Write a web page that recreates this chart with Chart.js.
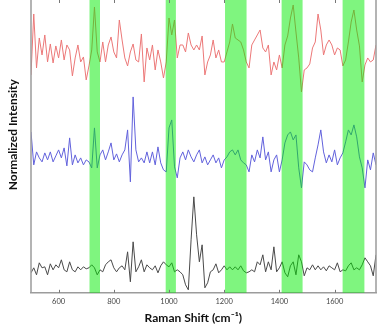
<!DOCTYPE html>
<html>
<head>
<meta charset="utf-8">
<script src="https://cdn.jsdelivr.net/npm/chart.js@4"></script>
<style>
  html, body { margin: 0; padding: 0; background: #fff; overflow: hidden; }
  canvas { display: block; }
</style>
</head>
<body>
<canvas id="ramanChart" width="386" height="327"></canvas>
<script>
// Raman shift grid (cm-1)
const shifts = [
  500, 510, 520, 530, 540, 550, 560, 570, 580, 590,
  600, 610, 620, 630, 640, 650, 660, 670, 680, 690,
  700, 710, 720, 730, 740, 750, 760, 770, 780, 790,
  800, 810, 820, 830, 840, 850, 860, 870, 880, 890,
  900, 910, 920, 930, 940, 950, 960, 970, 980, 990,
  1000, 1010, 1020, 1030, 1040, 1050, 1060, 1070, 1080, 1090,
  1100, 1110, 1120, 1130, 1140, 1150, 1160, 1170, 1180, 1190,
  1200, 1210, 1220, 1230, 1240, 1250, 1260, 1270, 1280, 1290,
  1300, 1310, 1320, 1330, 1340, 1350, 1360, 1370, 1380, 1390,
  1400, 1410, 1420, 1430, 1440, 1450, 1460, 1470, 1480, 1490,
  1500, 1510, 1520, 1530, 1540, 1550, 1560, 1570, 1580, 1590,
  1600, 1610, 1620, 1630, 1640, 1650, 1660, 1670, 1680, 1690,
  1700, 1710, 1720, 1730, 1740, 1750
];

// spectra, relative to their own baseline (a.u.)
const redSpectrum = [
  -2.0, 4.1, -1.3, 1.7, 0, 2.0, -0.7, 1.1, -0.8, 0.9,
  -0.3, 1.5, -0.5, 1.0, 0.5, -2.1, -0.3, 1.0, -0.7, -0.2,
  -2.5, -1.1, 0.5, 4.8, 0.3, -0.7, 1.3, -0.7, 1.0, 1.8,
  0.3, -0.3, 3.5, 1.5, -0.3, -1.1, 0.3, 1.1, -0.5, -0.7,
  2.1, -2.7, 0.7, -0.5, 1.0, -1.5, 0.5, -0.7, -2.3, -0.7,
  3.7, 2.0, 3.5, -0.3, 1.0, 1.0, 0.3, 2.2, 1.0, 0.5,
  1.0, 0.5, 1.9, -2.0, -0.7, 0, 1.5, -0.3, 0.5, -0.7,
  -0.7, 0.3, 1.3, 3.1, 1.7, 1.5, 1.3, 0.5, -0.7, -1.3,
  1.0, 1.5, 2.0, 2.5, 0.7, 0.3, 1.0, -2.0, -0.7, -1.5,
  0, -1.3, 1.0, 1.9, 3.7, 5.0, 2.3, -0.3, -3.7, -1.5,
  -1.3, -0.9, 0.7, 1.3, 4.1, 2.5, 0, 1.0, 1.5, 1.0,
  0, 0.7, 0.5, -1.1, -0.5, 1.3, 3.3, 4.5, 2.5, 0.9,
  -2.7, -1.0, -0.3, -0.7, -0.5, 1.0
];
const blueSpectrum = [
  2.6, -0.7, 0.6, 0, -0.4, 0.5, -0.2, 0.6, -0.4, 0.2,
  0.8, 0, 1.0, -0.8, 2.0, -0.7, 0.3, -0.5, 0, -0.7,
  -0.2, -0.4, -1.0, 3.0, -1.0, 0.3, 0.8, -0.2, 0.6, 1.5,
  -0.2, 0.4, -0.4, 0.3, 0.8, 2.8, -2.4, 6.1, 0.8, -0.4,
  0, -0.5, 0.6, -0.5, 0.6, -0.7, 1.1, -0.5, -1.2, -1.4,
  3.0, 3.8, -0.9, -2.0, 0, 0.6, -0.2, 0.8, 0.1, -0.4,
  0.3, 0.8, -0.5, 0.1, -0.7, -0.2, 0.3, -0.5, 0, -1.0,
  -0.2, 0.1, 0.6, 0.8, 0.3, 0.8, -0.2, -0.5, -0.7, -1.4,
  0.3, -0.4, 0.8, 0, 2.1, -0.2, 0.6, -1.4, -0.2, 0.3,
  -1.4, -0.2, 1.5, 2.3, 2.6, 1.8, 2.3, -1.0, -3.0, -0.4,
  -0.7, -1.2, -1.4, 0, 1.3, 2.8, 0.6, -0.5, 0.3, -0.4,
  0.8, -0.7, 0, 0.5, 1.6, 2.8, 2.3, 3.3, 2.1, 0.1,
  -1.0, -3.0, -0.2, -1.2, 0.5, -0.7
];
const blackSpectrum = [
  -0.5, 0, -0.7, 0.5, 0, 0.1, -0.7, 0.4, -0.2, 0.3,
  0, 0.8, -0.2, -0.4, 0.6, -0.2, -0.4, 0.1, -0.2, 0.1,
  -0.1, 0, 0.3, 0, -0.7, -0.2, -0.4, 0.3, 0.6, 0.8,
  0, -0.4, 0, 0.2, -0.2, 1.6, -1.4, 2.6, -0.4, 0.1,
  0.8, -0.4, 0.3, 0, -0.2, 0.2, -0.5, 0.2, 0.6, 0.3,
  0.1, 0.5, -0.4, -0.2, -0.4, -0.7, -1.7, -2.2, 2.8, 7.1,
  3.3, 0.6, 2.3, -2.0, -1.5, -0.4, -0.2, 0.4, -0.5, -0.2,
  0.2, -0.2, 0.1, -0.2, 0.1, -0.2, 0.2, -0.3, -0.5, -0.4,
  -0.2, -0.4, 0.6, 0.3, 1.3, -0.4, 0.6, -0.2, 2.1, -0.4,
  0, 0.6, -0.5, -0.9, 0.2, 0.6, -0.7, 1.3, 0.6, -0.8,
  0, -0.2, 0.3, -0.2, 0.2, -0.2, 0.1, -0.3, 0.2, 0,
  -0.2, 0.5, -0.4, -0.2, -0.3, 0.2, 0.5, -0.2, 0, -0.2,
  0.3, 1.0, 0.6, 0.2, -0.8, 1.3
];

// vertical stacking offsets for the three spectra
const spectrumOffsets = [23.8, 13.5, 2.5];
const spectrumColors = ["#ec7878", "#6262dc", "#4a4a4a"];

// highlighted bands (cm-1)
const bandStart = [712, 988, 1203, 1408, 1629];
const bandEnd = [750, 1025, 1281, 1484, 1708];

const xTicks = [600, 800, 1000, 1200, 1400, 1600];

document.addEventListener("DOMContentLoaded", function () {
    const ctx = document.getElementById("ramanChart").getContext("2d");
    Chart.defaults.font.family = "Lato, 'Open Sans', sans-serif";

    const spectra = [redSpectrum, blueSpectrum, blackSpectrum];

    // green bands drawn over the lines, plus frame and inward tick marks
    const overlayPlugin = {
        id: "overlay",
        afterDatasetsDraw(chart) {
            const { ctx, chartArea: a, scales: { x } } = chart;
            ctx.save();
            ctx.fillStyle = "rgba(0, 235, 0, 0.5)";
            bandStart.forEach((s, k) => {
                const x0 = x.getPixelForValue(s);
                const x1 = x.getPixelForValue(bandEnd[k]);
                ctx.fillRect(x0, a.top, x1 - x0, a.bottom - a.top);
            });

            ctx.strokeStyle = "#9c9c9c";
            ctx.lineWidth = 1.5;
            ctx.beginPath();
            ctx.moveTo(a.left, a.top);
            ctx.lineTo(a.left, a.bottom);
            ctx.moveTo(a.right, a.top);
            ctx.lineTo(a.right, a.bottom);
            ctx.stroke();

            // small inward ticks, top and bottom
            ctx.strokeStyle = "#777";
            ctx.lineWidth = 1;
            ctx.beginPath();
            xTicks.forEach(v => {
                const px = Math.round(x.getPixelForValue(v)) + 0.5;
                ctx.moveTo(px, a.top);
                ctx.lineTo(px, a.top + 3);
                ctx.moveTo(px, a.bottom);
                ctx.lineTo(px, a.bottom - 3);
            });
            ctx.stroke();
            ctx.restore();
        }
    };

    new Chart(ctx, {
        type: "line",
        data: {
            datasets: spectra.map((s, k) => ({
                data: s.map((v, i) => ({ x: shifts[i], y: v + spectrumOffsets[k] })),
                borderColor: spectrumColors[k],
                borderWidth: 1,
                pointRadius: 0,
                tension: 0,
                fill: false
            }))
        },
        options: {
            responsive: false,
            animation: false,
            layout: { padding: { left: 2, right: 10, top: 0, bottom: 0 } },
            plugins: {
                legend: { display: false },
                tooltip: { enabled: false }
            },
            scales: {
                x: {
                    type: "linear",
                    min: 500,
                    max: 1750,
                    grid: { display: true, drawOnChartArea: false, drawTicks: false },
                    border: { display: true, color: "#9c9c9c", width: 1.5 },
                    ticks: {
                        stepSize: 200,
                        includeBounds: false,
                        padding: 4.5,
                        color: "#444",
                        font: { size: 7.5 },
                        callback: v => String(v)
                    },
                    afterBuildTicks: axis => { axis.ticks = xTicks.map(v => ({ value: v })); },
                    title: {
                        display: true,
                        // trailing spaces nudge the centred title a bit left, as in the original
                        text: "Raman Shift (cm\u207B\u00B9)       ",
                        color: "#111",
                        font: { size: 12, weight: "bold" },
                        padding: { top: 0, bottom: 1.8 }
                    }
                },
                y: {
                    min: 0,
                    max: 29.3,
                    grid: { display: false, drawTicks: false },
                    border: { display: false },
                    ticks: { display: false },
                    title: {
                        display: true,
                        // leading spaces nudge the rotated title upward
                        text: "        Normalized Intensity",
                        color: "#111",
                        font: { size: 12, weight: "bold" },
                        padding: { top: 3.8, bottom: 10.8 }
                    }
                }
            }
        },
        plugins: [overlayPlugin]
    });
});
</script>
</body>
</html>
